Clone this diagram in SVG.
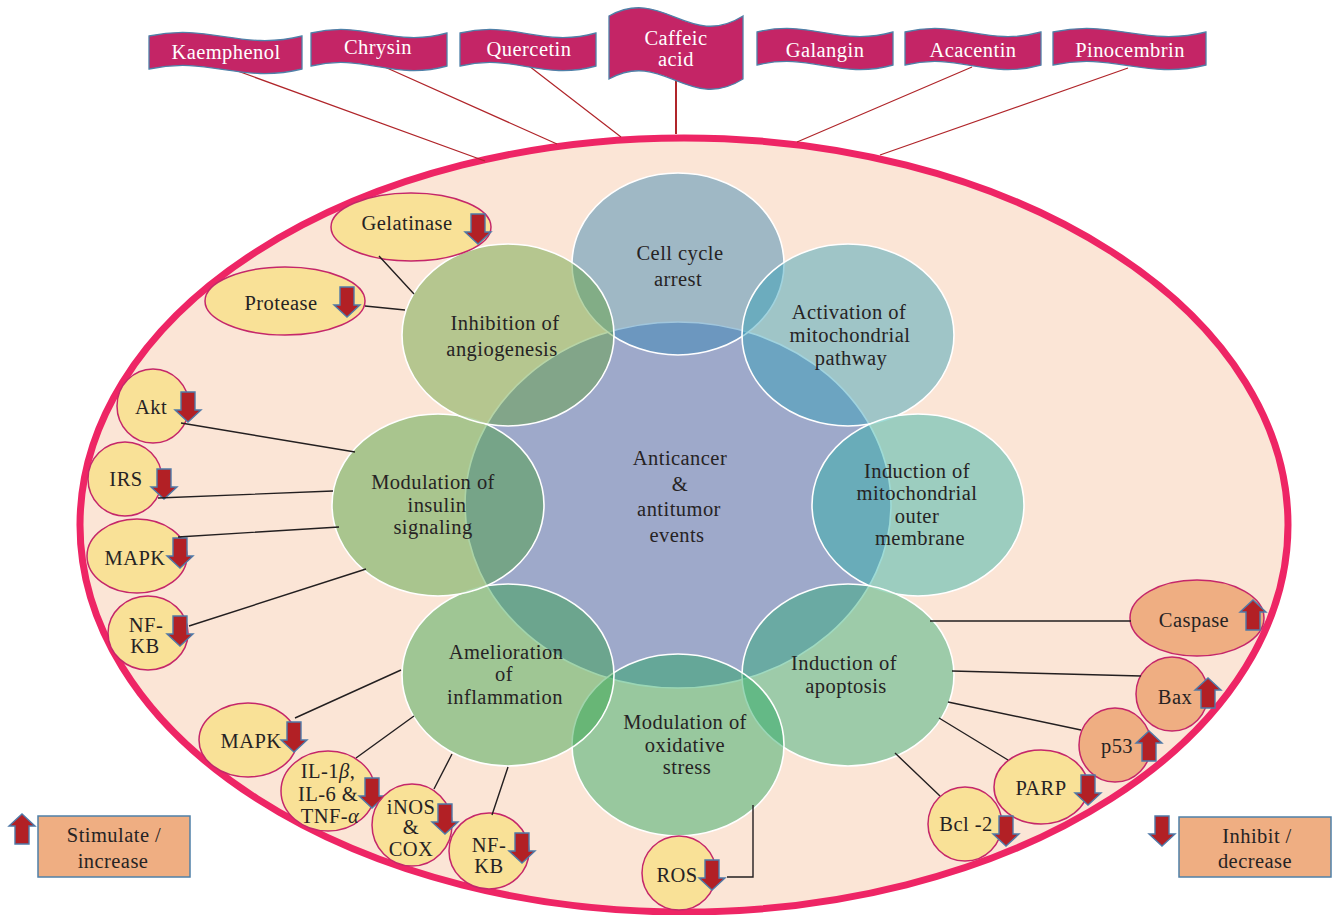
<svg xmlns="http://www.w3.org/2000/svg" width="1332" height="915" viewBox="0 0 1332 915">
<style>
text{font-family:"Liberation Serif","DejaVu Serif",serif;font-size:20.5px;fill:#262324;text-anchor:middle;letter-spacing:.45px}
text.w{fill:#fff}
.i{font-style:italic}
.c{stroke:#fff;stroke-width:1.6}
.sm{stroke:#c5276a;stroke-width:1.5}
.y{fill:#f9e197}
.o{fill:#efae82}
.f{fill:#c42566;stroke:#4f80a8;stroke-width:1.3}
.l{fill:#efae82;stroke:#4f80a8;stroke-width:1.5}
.k{stroke:#231f20;stroke-width:1.4;fill:none}
.r{stroke:#b0252a;stroke-width:1.2;fill:none}
.a{fill:#b22025;stroke:#4f79a8;stroke-width:1.4}
</style>
<defs>
<path id="dn" class="a" d="M-7-30H7V-12H13L0 0-13-12H-7Z"/>
<path id="up" class="a" d="M-7 30H7V12H13L0 0-13 12H-7Z"/>
</defs>
<rect width="1332" height="915" fill="#fff"/>
<ellipse id="cell-boundary" cx="684" cy="525" rx="604" ry="387" fill="#fbe5d6" stroke="#ee2565" stroke-width="7"/>
<g id="center"><ellipse cx="678" cy="505" rx="213" ry="183" fill="#9ea9ca" class="c"/><text x="680" y="465">Anticancer</text><text x="680" y="491">&amp;</text><text x="679" y="516">antitumor</text><text x="677" y="542">events</text></g>
<g id="cell-cycle"><ellipse cx="678" cy="264" rx="106" ry="91" fill="#2f81b2" fill-opacity=".45" class="c"/><text x="680" y="260">Cell cycle</text><text x="678" y="286">arrest</text></g>
<g id="mito-path"><ellipse cx="848" cy="335" rx="106" ry="91" fill="#2f9eb6" fill-opacity=".45" class="c"/><text x="849" y="319">Activation of</text><text x="850" y="342">mitochondrial</text><text x="851" y="365">pathway</text></g>
<g id="mito-membrane"><ellipse cx="918" cy="505" rx="106" ry="91" fill="#28b0a4" fill-opacity=".45" class="c"/><text x="917" y="478">Induction of</text><text x="917" y="500">mitochondrial</text><text x="917" y="523">outer</text><text x="920" y="545">membrane</text></g>
<g id="apoptosis"><ellipse cx="848" cy="675" rx="106" ry="91" fill="#2aab74" fill-opacity=".45" class="c"/><text x="844" y="670">Induction of</text><text x="846" y="693">apoptosis</text></g>
<g id="oxidative"><ellipse cx="678" cy="745" rx="106" ry="91" fill="#1fa45b" fill-opacity=".45" class="c"/><text x="685" y="729">Modulation of</text><text x="685" y="752">oxidative</text><text x="687" y="774">stress</text></g>
<g id="inflammation"><ellipse cx="508" cy="675" rx="106" ry="91" fill="#2fa045" fill-opacity=".45" class="c"/><text x="506" y="659">Amelioration</text><text x="504" y="681">of</text><text x="505" y="704">inflammation</text></g>
<g id="insulin"><ellipse cx="438" cy="505" rx="106" ry="91" fill="#459e38" fill-opacity=".45" class="c"/><text x="433" y="489">Modulation of</text><text x="437" y="512">insulin</text><text x="433" y="534">signaling</text></g>
<g id="angiogenesis"><ellipse cx="508" cy="335" rx="106" ry="91" fill="#60a03a" fill-opacity=".45" class="c"/><text x="505" y="330">Inhibition of</text><text x="502" y="356">angiogenesis</text></g>

<g id="n-gelatinase"><ellipse cx="411" cy="227" rx="80" ry="34" class="sm y"/><text x="407" y="230">Gelatinase</text><use href="#dn" x="478" y="244"/></g>
<g id="n-protease"><ellipse cx="285" cy="301" rx="80" ry="34" class="sm y"/><text x="281" y="310">Protease</text><use href="#dn" x="347" y="317"/></g>
<g id="n-akt"><ellipse cx="153" cy="406" rx="36" ry="37" class="sm y"/><text x="151" y="414">Akt</text><use href="#dn" x="188" y="422"/></g>
<g id="n-irs"><ellipse cx="125" cy="479" rx="37" ry="37" class="sm y"/><text x="126" y="486">IRS</text><use href="#dn" x="164" y="499"/></g>
<g id="n-mapk1"><ellipse cx="137" cy="556" rx="50" ry="37" class="sm y"/><text x="135" y="565">MAPK</text><use href="#dn" x="180" y="568"/></g>
<g id="n-nfkb1"><ellipse cx="148" cy="633" rx="40" ry="37" class="sm y"/><text x="146" y="632">NF-</text><text x="145" y="653">KB</text><use href="#dn" x="180" y="646"/></g>
<g id="n-mapk2"><ellipse cx="248" cy="740" rx="49" ry="37" class="sm y"/><text x="251" y="748">MAPK</text><use href="#dn" x="294" y="752"/></g>
<g id="n-il"><ellipse cx="328" cy="791" rx="47" ry="40" class="sm y"/><text x="328" y="778">IL-1<tspan class="i">β</tspan>,</text><text x="328" y="801">IL-6 &amp;</text><text x="330" y="823">TNF-<tspan class="i">α</tspan></text><use href="#dn" x="372" y="808"/></g>
<g id="n-inos"><ellipse cx="412" cy="825" rx="40" ry="41" class="sm y"/><text x="411" y="814">iNOS</text><text x="411" y="834">&amp;</text><text x="411" y="856">COX</text><use href="#dn" x="445" y="834"/></g>
<g id="n-nfkb2"><ellipse cx="489" cy="851" rx="40" ry="38" class="sm y"/><text x="489" y="852">NF-</text><text x="489" y="873">KB</text><use href="#dn" x="522" y="863"/></g>
<g id="n-ros"><ellipse cx="679" cy="873" rx="37" ry="37" class="sm y"/><text x="677" y="882">ROS</text><use href="#dn" x="712" y="890"/></g>
<g id="n-caspase"><ellipse cx="1197" cy="618" rx="67" ry="38" class="sm o"/><text x="1194" y="627">Caspase</text><use href="#up" x="1253" y="600"/></g>
<g id="n-bax"><ellipse cx="1172" cy="694" rx="36" ry="37" class="sm o"/><text x="1175" y="704">Bax</text><use href="#up" x="1208" y="678"/></g>
<g id="n-p53"><ellipse cx="1115" cy="745" rx="36" ry="37" class="sm o"/><text x="1117" y="753">p53</text><use href="#up" x="1149" y="731"/></g>
<g id="n-parp"><ellipse cx="1041" cy="787" rx="47" ry="37" class="sm y"/><text x="1041" y="795">PARP</text><use href="#dn" x="1088" y="805"/></g>
<g id="n-bcl"><ellipse cx="965" cy="824" rx="37" ry="37" class="sm y"/><text x="966" y="831">Bcl -2</text><use href="#dn" x="1006" y="846"/></g>

<g id="connectors">
<path class="k" d="M379 256L414 294M365 306L405 310M181 423L355 452M158 498L333 491M178 537L339 527M189 626L366 569M295 718L401 670M356 758L414 716M434 789L452 754M492 815L508 767M727 877H753V805M930 621H1131M952 671L1141 676M948 702L1081 730M939 718L1008 760M895 753L940 796"/>
<path class="r" d="M232 69L485 161M378 64L557 144M529 66L621 137M972 67L797 142M1128 68L880 155"/>
<path class="r" d="M676 80V134" style="stroke-width:2"/>
</g>

<g id="f-kaemphenol"><path class="f" d="M149 36c61-13 92 15 153 0v33c-61 15-92-13-153 0z"/><text class="w" x="226" y="59">Kaemphenol</text></g>
<g id="f-chrysin"><path class="f" d="M311 33c54-13 82 15 136 0v33c-54 15-82-13-136 0z"/><text class="w" x="378" y="54">Chrysin</text></g>
<g id="f-quercetin"><path class="f" d="M460 33c54-13 82 15 136 0v33c-54 15-82-13-136 0z"/><text class="w" x="529" y="56">Quercetin</text></g>
<g id="f-caffeic"><path class="f" d="M609 16c54-30 80 34 134 0v63c-54 34-80-30-134 0z"/><text class="w" x="676" y="45">Caffeic</text><text class="w" x="676" y="66">acid</text></g>
<g id="f-galangin"><path class="f" d="M757 32c54-13 82 15 136 0v33c-54 15-82-13-136 0z"/><text class="w" x="825" y="57">Galangin</text></g>
<g id="f-acacentin"><path class="f" d="M905 32c54-13 82 15 136 0v33c-54 15-82-13-136 0z"/><text class="w" x="973" y="57">Acacentin</text></g>
<g id="f-pinocembrin"><path class="f" d="M1053 32c61-13 92 15 153 0v33c-61 15-92-13-153 0z"/><text class="w" x="1130" y="57">Pinocembrin</text></g>

<g id="legend-stimulate"><use href="#up" x="22" y="814"/><rect class="l" x="38" y="816" width="152" height="61"/><text x="114" y="842">Stimulate /</text><text x="113" y="868">increase</text></g>
<g id="legend-inhibit"><use href="#dn" x="1162" y="846"/><rect class="l" x="1179" y="817" width="152" height="60"/><text x="1257" y="843">Inhibit /</text><text x="1255" y="868">decrease</text></g>
</svg>
